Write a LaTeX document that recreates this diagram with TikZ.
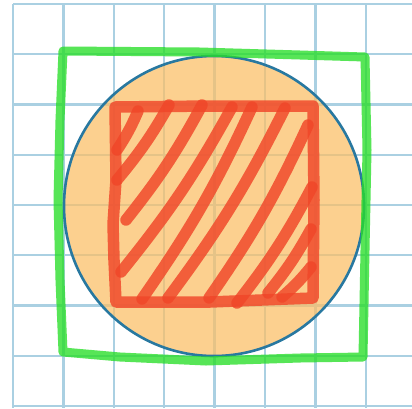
\documentclass[tikz,border=0pt]{standalone}
\definecolor{gridblue}{RGB}{170,208,226}
\definecolor{discfill}{RGB}{252,190,100}
\definecolor{discedge}{RGB}{40,120,160}
\definecolor{penred}{RGB}{240,70,40}
\definecolor{pengreen}{RGB}{40,222,40}
\tikzset{
  gridline/.style={draw=gridblue, line width=2.4pt},
  redpen/.style={draw=penred, draw opacity=0.82, line width=11.5pt, line cap=round, line join=round},
  greenpen/.style={draw=pengreen, draw opacity=0.78, line width=9pt, line cap=round, line join=round},
}
\begin{document}
\begin{tikzpicture}[x=1pt,y=-1pt]
\useasboundingbox (0,0) rectangle (412,408);
\fill[white] (0,0) rectangle (412,408);
% grid
\foreach \k in {0,...,8} {
  \draw[gridline] ({13+50.4*\k},4) -- ({13+50.4*\k},408);
  \draw[gridline] (13,{4+50.25*\k}) -- (412,{4+50.25*\k});
}
% disc
\draw[fill=discfill, fill opacity=0.72, draw=discedge, line width=2.6pt] (214,206) circle[radius=150];
% green square
\draw[greenpen] (63,51) -- (200,52) -- (300,55) -- (365,57) -- (367,150) -- (365,250) -- (363,357)
  -- (300,358) -- (206,361) -- (120,357) -- (63,352) -- (60,280) -- (58,200) -- (60,120) -- cycle;
% red square outline
\draw[redpen] (115,107) -- (210,106) -- (313,106) -- (314,200) -- (313,298) -- (210,302) -- (116,302)
  -- (114,260) -- (113,224) -- (116,180) -- cycle;
% hatching
\draw[redpen] (117,150) to[bend right=5] (138,111);
\draw[redpen] (117,180) to[bend right=5] (169,105);
\draw[redpen] (126,220) to[bend right=5] (202,105);
\draw[redpen] (121,272) to[bend right=5] (232,107);
\draw[redpen] (142,299) to[bend right=5] (252,107);
\draw[redpen] (168,298) to[bend right=5] (285,108);
\draw[redpen] (209,298) to[bend right=5] (308,125);
\draw[redpen] (237,303) to[bend right=5] (312,187);
\draw[redpen] (268,293) to[bend right=5] (311,229);
\draw[redpen] (282,297) to[bend right=5] (311,267);
\end{tikzpicture}
\end{document}
